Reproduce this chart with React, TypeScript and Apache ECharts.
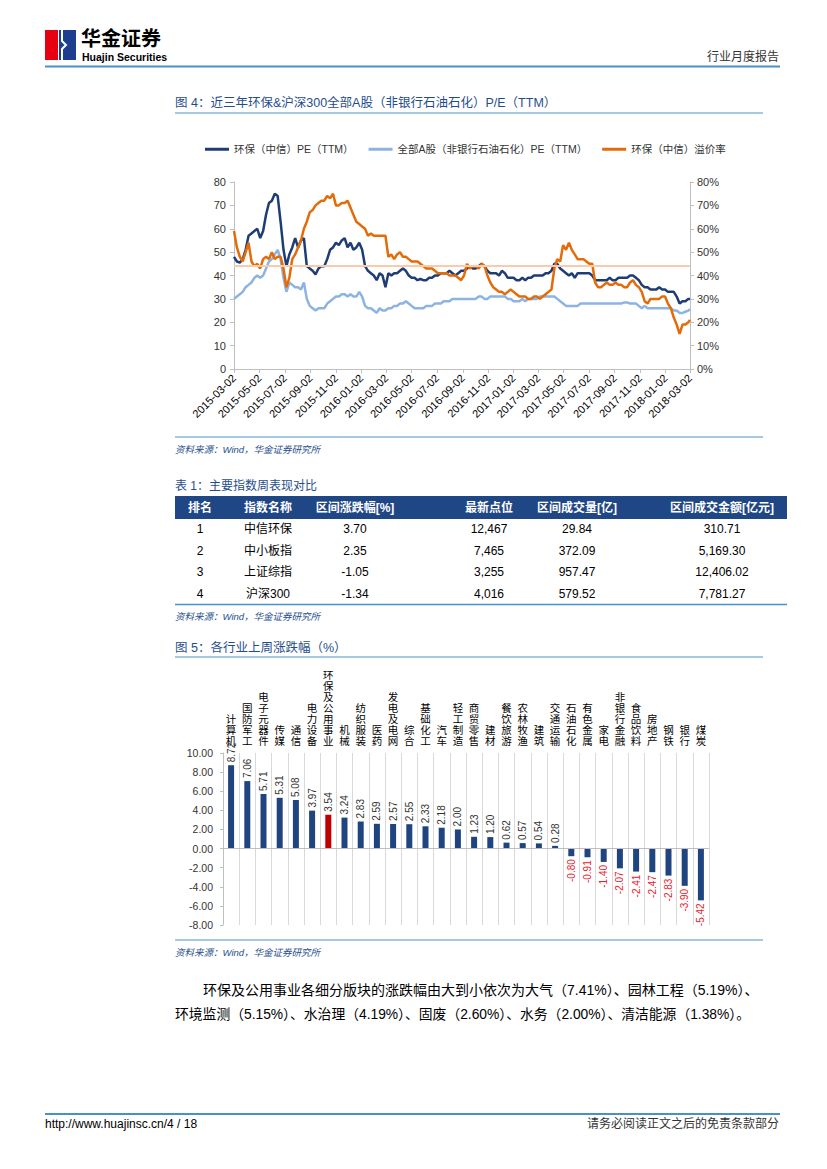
import React, { useEffect, useRef } from "react";
import * as echarts from "echarts";

// ---------- Figure 4 data ----------
const xTickLabels = [
  "2015-03-02", "2015-05-02", "2015-07-02", "2015-09-02", "2015-11-02",
  "2016-01-02", "2016-03-02", "2016-05-02", "2016-07-02", "2016-09-02",
  "2016-11-02", "2017-01-02", "2017-03-02", "2017-05-02", "2017-07-02",
  "2017-09-02", "2017-11-02", "2018-01-02", "2018-03-02",
];
const seriesStart = "2015-03-02";
const seriesEnd = "2018-03-02";
const seriesStepDays = 7; // weekly readings, last one on seriesEnd

const hbPE = [
  48, 46, 45.5, 47, 51, 57, 58, 59, 60, 56,
  59, 66, 71, 72, 75, 74, 63, 51, 44, 49,
  52, 56, 52, 55, 56, 44, 43, 42, 40.5, 43,
  44, 44, 47, 51, 52, 54, 53, 55, 56, 52,
  54, 51, 52, 54, 51, 44, 42, 41, 40, 38,
  41, 40, 35, 41, 40, 41, 41, 42, 43, 42,
  40, 39, 39, 38, 38.5, 38, 38, 39, 39, 40,
  40, 41, 41, 41, 42, 41, 40, 41, 42, 42,
  43, 44, 43, 43, 44, 45, 44, 42, 41, 41,
  41, 40, 42, 41, 39, 39, 39, 38, 38, 39,
  38, 39, 39, 40, 40, 40, 40, 41, 41, 42,
  45, 45, 43, 42, 41, 40, 41, 39, 41, 41,
  41, 41, 41, 40, 38, 38, 38, 38, 38, 39,
  38, 38, 39, 39, 39, 39, 40, 40, 39, 38,
  36, 35, 35, 34, 34, 34, 35, 34, 34, 33,
  33, 33, 31, 28, 29, 29, 30,
  30,
];
const aPE = [
  30, 31, 32, 33, 35, 36, 37, 39, 40, 39,
  40, 43, 46, 47, 49, 51, 47, 39, 33, 37,
  36, 35, 35, 34, 37, 30, 27, 26, 25, 26,
  26, 26, 28, 29, 30, 31, 31, 32, 32, 31,
  32, 31, 31, 33, 31, 27, 26, 26, 25, 24,
  26, 25, 25, 26, 26, 27, 27, 28, 28, 29,
  28, 27, 26, 26, 26, 26, 27, 27, 27, 28,
  28, 28, 29, 29, 29, 30, 30, 30, 30, 30,
  30, 30, 30, 30, 31, 31, 30, 30, 31, 31,
  31, 31, 31, 31, 30, 30, 29, 29, 29, 30,
  29, 30, 30, 30, 30, 31, 31, 31, 31, 31,
  31, 30, 29, 28, 27, 27, 27, 27, 27, 28,
  28, 28, 28, 28, 28, 28, 28, 28, 28, 28,
  28, 28, 28, 28, 28.5, 28.5, 28, 28, 28, 27,
  26, 27, 26, 26, 26, 26, 26, 26, 26, 26,
  26, 25, 25, 24, 24, 24.5, 25,
  25.5,
];
const premium = [
  59, 52, 48, 46, 50, 54, 46, 44, 45, 43,
  47, 48, 47, 50, 47, 48, 48, 43, 35, 39,
  47, 49, 52, 55, 60, 63, 67, 68, 70, 71,
  72, 72, 74, 73, 75, 70, 70, 71, 71, 72,
  69, 66, 63, 62, 61, 60, 57, 58, 57, 57,
  57, 57, 57, 48, 49, 47, 49, 50, 48, 48,
  47, 46, 46, 46, 45, 44, 43, 43, 43, 42,
  41, 41, 41, 41, 40, 40, 40, 39, 38, 40,
  45, 43, 44, 44, 43, 45, 44, 40, 37, 35,
  34, 33, 33, 32, 33, 34, 33, 32, 31, 31,
  31, 30, 30, 31, 31, 30, 31, 32, 33, 34,
  43, 47, 46, 53, 51, 54, 51, 49, 47, 47,
  47, 46, 45, 45, 37, 35, 35, 36, 37, 36,
  36, 37, 36, 36, 35, 35, 37, 38, 36, 35,
  33, 29, 28, 30, 30, 30, 30, 31, 31, 28,
  26, 22, 19, 15, 19, 19, 20,
  21,
];
const premiumLevel = 44;
const lineNames = ["环保（中信）PE（TTM）", "全部A股（非银行石油石化）PE（TTM）", "环保（中信）溢价率"];

// ---------- Table 1 data ----------
const tableHeaders = ["排名", "指数名称", "区间涨跌幅[%]", "最新点位", "区间成交量[亿]", "区间成交金额[亿元]"];
const ranks = ["1", "2", "3", "4"];
const indexNames = ["中信环保", "中小板指", "上证综指", "沪深300"];
const weeklyChange = ["3.70", "2.35", "-1.05", "-1.34"];
const latestClose = ["12,467", "7,465", "3,255", "4,016"];
const volume = ["29.84", "372.09", "957.47", "579.52"];
const turnover = ["310.71", "5,169.30", "12,406.02", "7,781.27"];

// ---------- Figure 5 data ----------
const industries = [
  "计算机", "国防军工", "电子元器件", "传媒", "通信", "电力设备", "环保及公用事业", "机械",
  "纺织服装", "医药", "发电及电网", "综合", "基础化工", "汽车", "轻工制造", "商贸零售", "建材",
  "餐饮旅游", "农林牧渔", "建筑", "交通运输", "石油石化", "有色金属", "家电", "非银行金融",
  "食品饮料", "房地产", "钢铁", "银行", "煤炭",
];
const industryChanges = [
  8.72, 7.06, 5.71, 5.31, 5.08, 3.97, 3.54, 3.24, 2.83, 2.59, 2.57, 2.55, 2.33, 2.18, 2.0,
  1.23, 1.2, 0.62, 0.57, 0.54, 0.28, -0.8, -0.91, -1.4, -2.07, -2.41, -2.47, -2.83, -3.9, -5.42,
];
const highlightIndustry = "环保及公用事业";

// ---------- text ----------
const subSectors = ["大气", "园林工程", "环境监测", "水治理", "固废", "水务", "清洁能源"];
const subChanges = ["7.41", "5.19", "5.15", "4.19", "2.60", "2.00", "1.38"];

const FONT = '"Liberation Sans", Arial, "Noto Sans CJK SC", sans-serif';
const NAVY = "#1F3D75";
const LIGHT = "#8DB3E2";
const ORANGE = "#E36C09";
const RULE = "#4A90C8";
const TITLE = "#1F4E8C";

const dayOf = (s: string) => {
  const [y, m, d] = s.split("-").map(Number);
  const [y0, m0, d0] = seriesStart.split("-").map(Number);
  return Math.round((Date.UTC(y, m - 1, d) - Date.UTC(y0, m0 - 1, d0)) / 86400000);
};
const endDay = dayOf(seriesEnd);
const tickDays = xTickLabels.map(dayOf);
const toPoints = (vals: number[]) =>
  vals.map((v, i) => [i < vals.length - 1 ? i * seriesStepDays : endDay, v]);

function txt(text: string, x: number, y: number, o: any = {}) {
  return {
    type: "text",
    x,
    y,
    silent: true,
    style: {
      text,
      fontSize: o.fontSize ?? 12,
      fontFamily: FONT,
      fontWeight: o.fontWeight ?? "normal",
      fontStyle: o.fontStyle ?? "normal",
      fill: o.fill ?? "#000",
      align: o.align ?? "left",
      verticalAlign: "middle",
    },
  };
}
function hline(x1: number, x2: number, y: number, color: string, w: number) {
  return { type: "line", silent: true, shape: { x1, y1: y, x2, y2: y }, style: { stroke: color, lineWidth: w } };
}

function buildGraphic() {
  const g: any[] = [];
  // header
  g.push({ type: "rect", shape: { x: 45, y: 30, width: 13, height: 30 }, style: { fill: "#E60012" } });
  g.push({ type: "rect", shape: { x: 59, y: 30, width: 17, height: 30 }, style: { fill: "#1D3E8F" } });
  g.push({
    type: "polyline",
    shape: { points: [[62, 30], [62, 41], [66, 45], [62, 49], [62, 60]] },
    style: { stroke: "#fff", lineWidth: 2, fill: null },
  });
  g.push(txt("华金证券", 81, 39, { fontSize: 20, fontWeight: "bold" }));
  g.push(txt("Huajin Securities", 82, 57, { fontSize: 10.5, fontWeight: "bold" }));
  g.push(txt("行业月度报告", 779, 57, { fontSize: 12, align: "right", fill: "#333" }));
  g.push(hline(45, 780, 66.5, RULE, 2));

  // figure 4
  g.push(txt("图 4：近三年环保&沪深300全部A股（非银行石油石化）P/E（TTM）", 175, 103, { fontSize: 12.5, fill: TITLE }));
  g.push(hline(175, 763, 113, RULE, 1));
  g.push(hline(175, 763, 437, RULE, 1));
  g.push(txt("资料来源：Wind，华金证券研究所", 175, 449, { fontSize: 9.5, fontStyle: "italic", fill: TITLE }));

  // table 1
  g.push(txt("表 1：主要指数周表现对比", 175, 486, { fontSize: 12, fill: TITLE }));
  g.push({ type: "rect", shape: { x: 175, y: 496, width: 612, height: 23 }, style: { fill: "#1F4685" } });
  const colX = [200, 268, 355, 489, 577, 722];
  tableHeaders.forEach((h, c) => g.push(txt(h, colX[c], 507.5, { fontSize: 12, fontWeight: "bold", fill: "#fff", align: "center" })));
  const cols = [ranks, indexNames, weeklyChange, latestClose, volume, turnover];
  const rowY = [529, 550.5, 572, 593.5];
  ranks.forEach((_, r) => {
    cols.forEach((col, c) => g.push(txt(col[r], colX[c], rowY[r], { fontSize: 12, align: "center" })));
  });
  g.push(hline(175, 787, 604.5, RULE, 1.5));
  g.push(txt("资料来源：Wind，华金证券研究所", 175, 616, { fontSize: 9.5, fontStyle: "italic", fill: TITLE }));

  // figure 5
  g.push(txt("图 5：各行业上周涨跌幅（%）", 175, 648, { fontSize: 12.5, fill: TITLE }));
  g.push(hline(175, 763, 657, RULE, 1));
  g.push(hline(175, 763, 940, RULE, 1));
  g.push(txt("资料来源：Wind，华金证券研究所", 175, 952, { fontSize: 9.5, fontStyle: "italic", fill: TITLE }));

  // body text
  const item = (i: number) => `${subSectors[i]}（${subChanges[i]}%）`;
  const line1 = "环保及公用事业各细分版块的涨跌幅由大到小依次为" + item(0) + "、" + item(1) + "、";
  const line2 = [2, 3, 4, 5, 6].map(item).join("、") + "。";
  g.push(txt(line1, 203, 990, { fontSize: 14 }));
  g.push(txt(line2, 175, 1014, { fontSize: 13.8 }));

  // footer
  g.push(hline(45, 780, 1114, RULE, 2));
  g.push(txt("http://www.huajinsc.cn/4 / 18", 45, 1124, { fontSize: 12 }));
  g.push(txt("请务必阅读正文之后的免责条款部分", 779, 1124, { fontSize: 12, align: "right", fill: "#333" }));
  return g;
}

function buildOption(): any {
  const axisGrey = "#BFBFBF";
  const posLabel = { show: true, position: "top", rotate: 90, align: "left", verticalAlign: "middle", distance: 3, color: "#333" };
  const negLabel = { show: true, position: "bottom", rotate: 90, align: "right", verticalAlign: "middle", distance: 3, color: "#E8212E" };
  return {
    animation: false,
    backgroundColor: "#fff",
    textStyle: { fontFamily: FONT },
    legend: {
      data: lineNames,
      left: 200,
      top: 139,
      icon: "rect",
      itemWidth: 24,
      itemHeight: 3,
      itemGap: 15,
      textStyle: { fontSize: 10.5, color: "#333", fontFamily: FONT },
    },
    grid: [
      { left: 234, top: 182, width: 456, height: 187 },
      { left: 223, top: 753, width: 486, height: 172 },
    ],
    xAxis: [
      {
        gridIndex: 0,
        type: "value",
        min: 0,
        max: endDay,
        axisLine: { show: true, lineStyle: { color: axisGrey } },
        axisTick: { show: true, customValues: tickDays, length: 4, lineStyle: { color: axisGrey } },
        axisLabel: {
          customValues: tickDays,
          rotate: 45,
          margin: 7,
          fontSize: 11,
          color: "#000",
          formatter: (v: number) => {
            const k = tickDays.indexOf(Math.round(v));
            return k >= 0 ? xTickLabels[k] : "";
          },
        },
        splitLine: { show: false },
      },
      {
        gridIndex: 1,
        type: "category",
        position: "top",
        data: industries,
        axisLine: { show: false, onZero: false },
        axisTick: { show: false },
        axisLabel: {
          interval: 0,
          fontSize: 10.5,
          lineHeight: 11,
          color: "#000",
          margin: 7,
          formatter: (v: string) => v.split("").join("\n"),
        },
        splitLine: { show: true, interval: 0, lineStyle: { color: "#D9D9D9" } },
      },
    ],
    yAxis: [
      {
        gridIndex: 0,
        type: "value",
        min: 0,
        max: 80,
        interval: 10,
        axisLine: { show: true, lineStyle: { color: axisGrey } },
        axisTick: { show: true, length: 4, lineStyle: { color: axisGrey } },
        axisLabel: { fontSize: 11, color: "#333", margin: 8 },
        splitLine: { show: false },
      },
      {
        gridIndex: 0,
        type: "value",
        position: "right",
        min: 0,
        max: 80,
        interval: 10,
        axisLine: { show: true, lineStyle: { color: axisGrey } },
        axisTick: { show: true, length: 4, lineStyle: { color: axisGrey } },
        axisLabel: { fontSize: 11, color: "#333", margin: 7, formatter: "{value}%" },
        splitLine: { show: false },
      },
      {
        gridIndex: 1,
        type: "value",
        min: -8,
        max: 10,
        interval: 2,
        axisLine: { show: true, lineStyle: { color: axisGrey } },
        axisTick: { show: true, length: 3, lineStyle: { color: axisGrey } },
        axisLabel: { fontSize: 10.5, color: "#333", margin: 10, formatter: (v: number) => v.toFixed(2) },
        splitLine: { show: false },
      },
    ],
    series: [
      {
        name: lineNames[0],
        type: "line",
        xAxisIndex: 0,
        yAxisIndex: 0,
        data: toPoints(hbPE),
        showSymbol: false,
        symbol: "none",
        color: NAVY,
        lineStyle: { width: 2.5, color: NAVY },
      },
      {
        name: lineNames[1],
        type: "line",
        xAxisIndex: 0,
        yAxisIndex: 0,
        data: toPoints(aPE),
        showSymbol: false,
        symbol: "none",
        color: LIGHT,
        lineStyle: { width: 2.5, color: LIGHT },
      },
      {
        name: lineNames[2],
        type: "line",
        xAxisIndex: 0,
        yAxisIndex: 1,
        data: toPoints(premium),
        showSymbol: false,
        symbol: "none",
        color: ORANGE,
        lineStyle: { width: 2.5, color: ORANGE },
        markLine: {
          silent: true,
          symbol: "none",
          label: { show: false },
          lineStyle: { color: "#F8CBAD", type: "solid", width: 2 },
          data: [{ yAxis: premiumLevel }],
        },
      },
      {
        name: "各行业上周涨跌幅",
        type: "bar",
        xAxisIndex: 1,
        yAxisIndex: 2,
        barWidth: 6,
        data: industryChanges.map((v, i) => ({
          value: v,
          itemStyle: { color: industries[i] === highlightIndustry ? "#C00000" : "#1F4480" },
          label: v >= 0 ? posLabel : negLabel,
        })),
        label: { show: true, fontSize: 10, fontFamily: FONT, formatter: (p: any) => Number(p.value).toFixed(2) },
        markLine: {
          silent: true,
          symbol: "none",
          label: { show: false },
          lineStyle: { color: "#BFBFBF", type: "solid", width: 1 },
          data: [{ yAxis: 0 }],
        },
      },
    ],
    graphic: buildGraphic(),
  };
}

export default function App() {
  const ref = useRef<HTMLDivElement>(null);
  useEffect(() => {
    if (!ref.current) return;
    const chart = echarts.init(ref.current, null, { renderer: "svg" });
    chart.setOption(buildOption());
    return () => chart.dispose();
  }, []);
  return (
    <div
      ref={ref}
      style={{ position: "absolute", left: 0, top: 0, width: 827, height: 1169, background: "#fff" }}
    />
  );
}
